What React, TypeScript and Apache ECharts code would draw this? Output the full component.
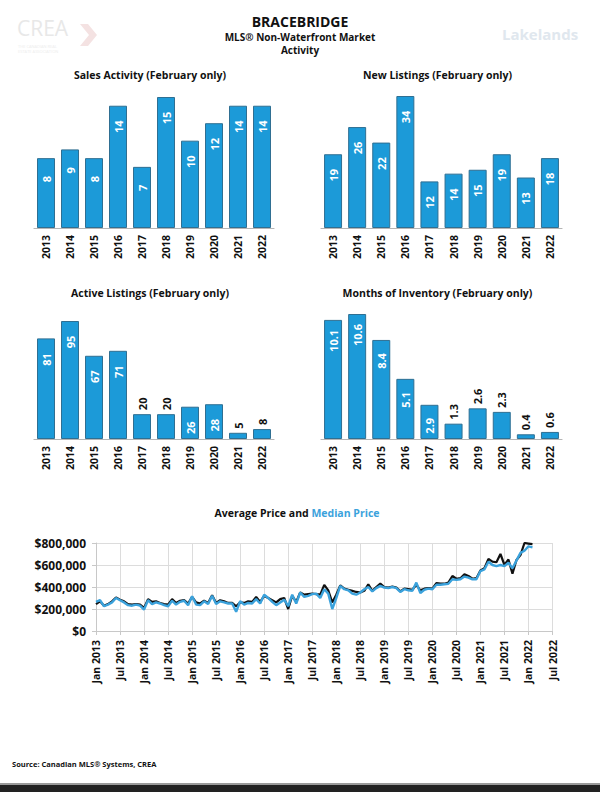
import React, { useEffect, useRef } from "react";
import * as echarts from "echarts";

const YEARS = ["2013", "2014", "2015", "2016", "2017", "2018", "2019", "2020", "2021", "2022"];
const SALES = [8, 9, 8, 14, 7, 15, 10, 12, 14, 14];
const NEW_LISTINGS = [19, 26, 22, 34, 12, 14, 15, 19, 13, 18];
const ACTIVE = [81, 95, 67, 71, 20, 20, 26, 28, 5, 8];
const MOI = [10.1, 10.6, 8.4, 5.1, 2.9, 1.3, 2.6, 2.3, 0.4, 0.6];

const MONTH_NAMES = ["Jan", "Feb", "Mar", "Apr", "May", "Jun", "Jul", "Aug", "Sep", "Oct", "Nov", "Dec"];
const PRICE_YEARS = [2013, 2014, 2015, 2016, 2017, 2018, 2019, 2020, 2021, 2022];
const PRICE_MONTHS: string[] = [];
PRICE_YEARS.forEach((y) => MONTH_NAMES.forEach((m, i) => { if (y < 2022 || i <= 6) PRICE_MONTHS.push(m + " " + y); }));

const AVG_PRICE = [
  245000, 270000, 230000, 245000, 270000, 305000, 285000, 270000, 245000, 240000, 245000, 240000,
  210000, 290000, 265000, 270000, 255000, 245000, 240000, 290000, 255000, 275000, 280000, 250000,
  310000, 260000, 250000, 275000, 255000, 325000, 255000, 280000, 270000, 255000, 255000, 225000,
  260000, 255000, 270000, 265000, 310000, 265000, 320000, 300000, 280000, 260000, 290000, 300000,
  200000, 320000, 265000, 350000, 330000, 335000, 340000, 335000, 330000, 420000, 370000, 260000,
  330000, 415000, 385000, 375000, 365000, 355000, 350000, 365000, 425000, 365000, 400000, 430000,
  400000, 395000, 405000, 395000, 360000, 385000, 380000, 375000, 420000, 370000, 385000, 390000,
  385000, 435000, 430000, 430000, 440000, 500000, 475000, 480000, 515000, 500000, 475000, 480000,
  550000, 570000, 655000, 630000, 625000, 700000, 600000, 650000, 520000, 645000, 690000, 800000,
  795000, 790000,
];
const MEDIAN_PRICE = [
  265000, 280000, 225000, 240000, 260000, 300000, 280000, 260000, 235000, 230000, 240000, 230000,
  195000, 280000, 245000, 260000, 250000, 235000, 225000, 275000, 240000, 265000, 275000, 235000,
  315000, 240000, 235000, 270000, 245000, 320000, 245000, 270000, 260000, 250000, 250000, 175000,
  270000, 240000, 255000, 250000, 290000, 250000, 330000, 300000, 265000, 235000, 260000, 285000,
  225000, 330000, 250000, 350000, 310000, 320000, 335000, 340000, 300000, 380000, 340000, 200000,
  300000, 410000, 380000, 370000, 340000, 330000, 350000, 380000, 400000, 360000, 390000, 410000,
  395000, 390000, 400000, 390000, 355000, 380000, 370000, 365000, 440000, 345000, 375000, 385000,
  380000, 420000, 420000, 425000, 430000, 470000, 465000, 470000, 495000, 485000, 470000, 470000,
  545000, 560000, 630000, 600000, 590000, 600000, 590000, 620000, 570000, 640000, 710000, 730000,
  770000, 760000,
];

const BAR_FILL = "#1c9ad8";
const BAR_BORDER = "#2f6f92";
const FONT = "'Open Sans', 'Noto Sans', sans-serif";

type GridBox = { left: number; top: number; width: number; height: number };
const BAR_GRIDS: GridBox[] = [
  { left: 34, top: 97, width: 240, height: 131 },
  { left: 321, top: 96, width: 241, height: 132 },
  { left: 34, top: 321, width: 240, height: 118 },
  { left: 321, top: 314, width: 241, height: 125 },
];
const BAR_TITLES = [
  "Sales Activity (February only)",
  "New Listings (February only)",
  "Active Listings (February only)",
  "Months of Inventory (February only)",
];
const BAR_DATA = [SALES, NEW_LISTINGS, ACTIVE, MOI];

function barItems(values: number[], box: GridBox) {
  const max = Math.max(...values);
  return values.map((v) => {
    const px = (v / max) * box.height;
    const outside = px < 32;
    return {
      value: v,
      label: outside
        ? { position: "top", distance: 4, align: "left", verticalAlign: "middle", color: "#111" }
        : { position: "insideTop", distance: 21, align: "center", verticalAlign: "middle", color: "#fff" },
    };
  });
}

export default function App() {
  const ref = useRef<HTMLDivElement>(null);
  useEffect(() => {
    if (!ref.current) return;
    const chart = echarts.init(ref.current, undefined, { renderer: "svg" });
    const grids: any[] = BAR_GRIDS.map((g) => ({ ...g }));
    grids.push({ left: 96, top: 543, width: 456.5, height: 88 });

    const xAxes: any[] = BAR_GRIDS.map((_, i) => ({
      type: "category",
      gridIndex: i,
      data: YEARS,
      axisLine: { lineStyle: { color: "#b5b5b5", width: 1.2 } },
      axisTick: { alignWithLabel: true, length: 4, lineStyle: { color: "#b5b5b5" } },
      axisLabel: { rotate: 90, fontSize: 10.5, fontWeight: "bold", color: "#111", fontFamily: FONT, margin: 7 },
    }));
    xAxes.push({
      type: "category",
      gridIndex: 4,
      data: PRICE_MONTHS,
      boundaryGap: false,
      axisLine: { lineStyle: { color: "#c8c8c8" } },
      axisTick: { interval: 5, length: 4, lineStyle: { color: "#c8c8c8" } },
      axisLabel: { interval: 5, rotate: 90, fontSize: 10.5, fontWeight: "bold", color: "#111", fontFamily: FONT, margin: 9 },
      splitLine: { show: true, interval: 5, lineStyle: { color: "#dcdcdc" } },
    });

    const yAxes: any[] = BAR_DATA.map((d, i) => ({
      type: "value",
      gridIndex: i,
      min: 0,
      max: Math.max(...d),
      show: false,
    }));
    yAxes.push({
      type: "value",
      gridIndex: 4,
      min: 0,
      max: 800000,
      interval: 200000,
      axisLine: { show: true, lineStyle: { color: "#c8c8c8" } },
      axisTick: { show: true, length: 4, lineStyle: { color: "#c8c8c8" } },
      axisLabel: {
        fontSize: 12,
        fontWeight: "bold",
        color: "#111",
        fontFamily: FONT,
        margin: 10,
        formatter: (v: number) => "$" + v.toLocaleString("en-US"),
      },
      splitLine: { show: true, lineStyle: { color: "#dcdcdc" } },
    });

    const series: any[] = BAR_DATA.map((d, i) => ({
      type: "bar",
      xAxisIndex: i,
      yAxisIndex: i,
      barWidth: 18,
      data: barItems(d, BAR_GRIDS[i]),
      itemStyle: { color: BAR_FILL, borderColor: BAR_BORDER, borderWidth: 1 },
      label: { show: true, rotate: 90, fontSize: 11, fontWeight: "bold", fontFamily: FONT },
    }));
    series.push({
      type: "line",
      name: "Average Price",
      xAxisIndex: 4,
      yAxisIndex: 4,
      data: AVG_PRICE,
      symbol: "none",
      lineStyle: { color: "#111111", width: 2.2 },
    });
    series.push({
      type: "line",
      name: "Median Price",
      xAxisIndex: 4,
      yAxisIndex: 4,
      data: MEDIAN_PRICE,
      symbol: "none",
      lineStyle: { color: "#3ba2dc", width: 2.4 },
    });

    const hdr = (text: string, top: number, size: number) => ({
      text,
      left: "center",
      top,
      padding: 0,
      textStyle: { fontSize: size, lineHeight: size + 1, fontWeight: "bold", color: "#111", fontFamily: FONT },
    });
    const titles: any[] = [
      hdr("BRACEBRIDGE", 14, 14),
      hdr("MLS® Non-Waterfront Market", 31, 10),
      hdr("Activity", 44, 10),
    ];
    BAR_GRIDS.forEach((g, i) => {
      titles.push({
        text: BAR_TITLES[i],
        left: g.left + g.width / 2 - 4,
        top: i < 2 ? 69 : 287,
        padding: 0,
        textAlign: "center",
        textStyle: { fontSize: 10.5, lineHeight: 12, fontWeight: "bold", color: "#111", fontFamily: FONT },
      });
    });
    titles.push({
      text: "{a|Average Price and }{b|Median Price}",
      left: 297,
      top: 507,
      padding: 0,
      textAlign: "center",
      textStyle: {
        rich: {
          a: { fontSize: 10.5, lineHeight: 12, fontWeight: "bold", color: "#111", fontFamily: FONT },
          b: { fontSize: 10.5, lineHeight: 12, fontWeight: "bold", color: "#3ba2dc", fontFamily: FONT },
        },
      },
    });

    chart.setOption({
      animation: false,
      backgroundColor: "#ffffff",
      title: titles,
      grid: grids,
      xAxis: xAxes,
      yAxis: yAxes,
      series,
      graphic: [
        { type: "text", left: 17, top: 17, style: { text: "CREA", fontSize: 21, lineHeight: 21, fontFamily: FONT, fill: "#e8e8e8" } },
        { type: "polygon", shape: { points: [[80, 24], [88, 24], [97, 35], [88, 46], [80, 46], [89, 35]] }, style: { fill: "#f4e2e2" } },
        { type: "text", left: 18, top: 44, style: { text: "THE CANADIAN REAL\nESTATE ASSOCIATION", fontSize: 4, lineHeight: 5, fontFamily: FONT, fill: "#ededed" } },
        { type: "text", left: 502, top: 26, style: { text: "Lakelands", fontSize: 15, fontWeight: "bold", fontFamily: FONT, fill: "#e0e7ee" } },
        { type: "text", left: 12, top: 760, style: { text: "Source: Canadian MLS® Systems, CREA", fontSize: 7.5, fontWeight: "bold", fontFamily: FONT, fill: "#111" } },
        { type: "rect", shape: { x: 0, y: 783, width: 600, height: 2 }, style: { fill: "#9a9a9a" } },
        { type: "rect", shape: { x: 0, y: 785, width: 600, height: 7 }, style: { fill: "#222222" } },
      ],
    });
    return () => chart.dispose();
  }, []);
  return <div ref={ref} style={{ position: "absolute", left: 0, top: 0, width: 600, height: 792 }} />;
}
